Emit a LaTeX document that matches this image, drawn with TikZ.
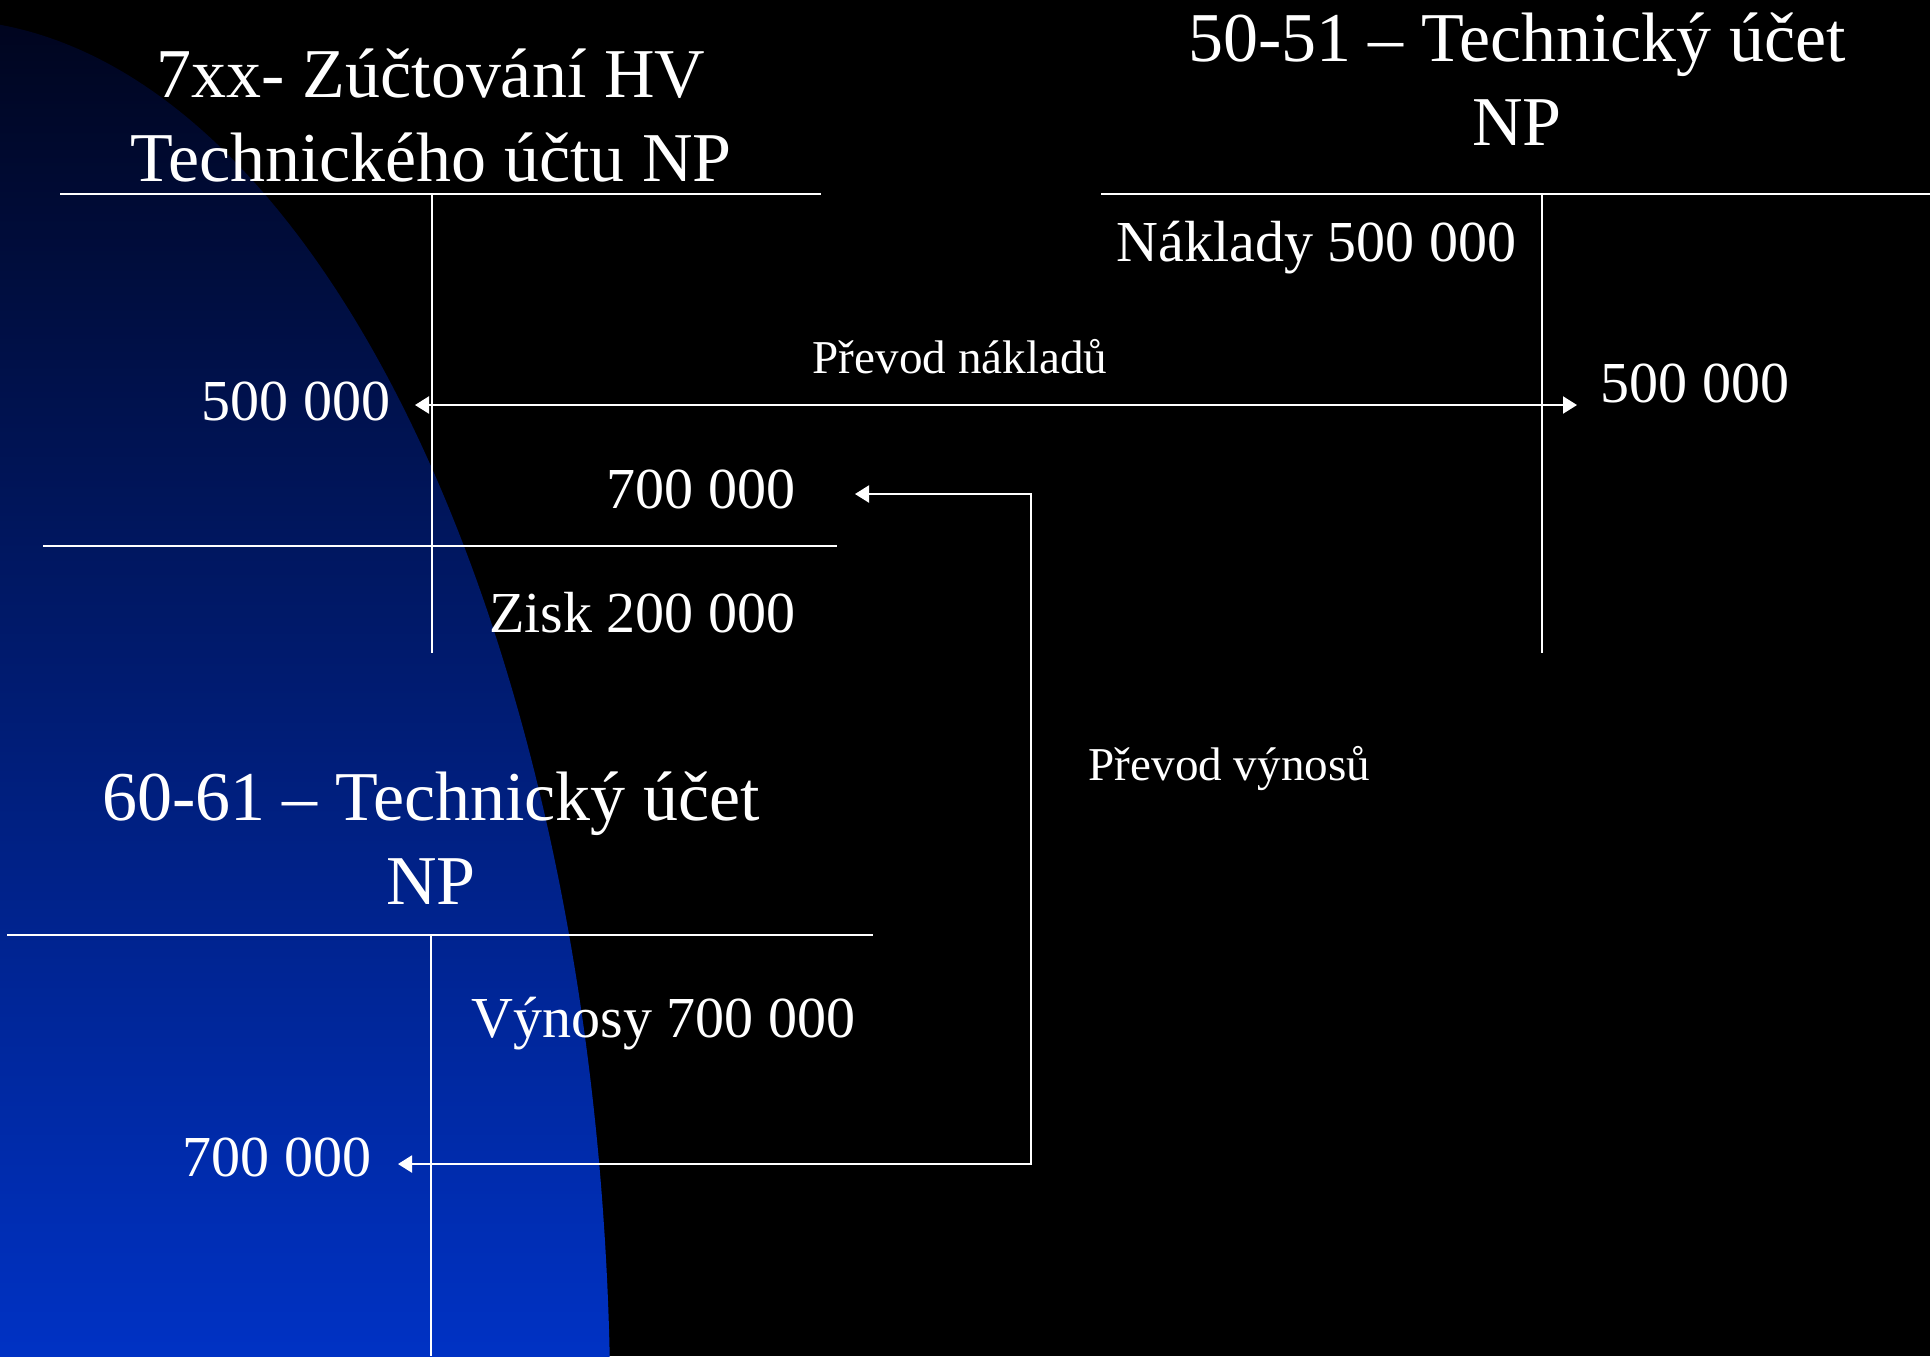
\documentclass[tikz,border=0pt]{standalone}
\usepackage{fontspec}
\setmainfont{Liberation Serif}
\usetikzlibrary{calc}
\usetikzlibrary{positioning}
\usetikzlibrary{arrows.meta}
\definecolor{slidetop}{RGB}{0,4,28}
\definecolor{slidebot}{RGB}{0,50,196}

\begin{document}
\begin{tikzpicture}[x=0.01cm, y=-0.01cm,
    every node/.style={text=white, inner sep=0pt},
    heading/.style={font=\fontsize{19.9}{23.8}\selectfont, align=center, anchor=base},
    amount/.style={font=\fontsize{16.5}{19.8}\selectfont},
    remark/.style={font=\fontsize{13.4}{16}\selectfont},
    tline/.style={draw=white, line width=0.6pt},
    transfer/.style={tline, {Triangle[length=0.14cm,width=0.17cm]}-{Triangle[length=0.14cm,width=0.17cm]}}]
  \useasboundingbox (0,0) rectangle (1930,1356);
  % slide background
  \fill[black] (0,0) rectangle (1930,1356);
  \begin{scope}
    \clip (-60,1420) ellipse [x radius=6.7cm, y radius=14cm];
    \shade[top color=slidetop, bottom color=slidebot] (0,0) rectangle (1930,1356);
  \end{scope}

  % 7xx account
  \node[heading] (t7) at (431,181) {7xx- Zúčtování HV\\Technického účtu NP};
  \coordinate (a0) at (432,194);
  \draw[tline] (60,194) -- (821,194);
  \draw[tline] (a0) -- (432,653);
  \draw[tline] (43,546) -- (837,546);
  \node[amount, anchor=base east] (a500) at (391,420) {500 000};
  \node[amount, anchor=base east] (a700) at (796,508) {700 000};
  \node[amount, anchor=base east] (zisk) at (796,632) {Zisk 200 000};

  % 50-51 account
  \node[heading] (t5) at (1517,145) {50-51 – Technický účet\\NP};
  \coordinate (b0) at (1542,194);
  \draw[tline] (1101,194) -- (1930,194);
  \draw[tline] (b0) -- (1542,653);
  \node[amount, anchor=base east] (naklady) at (1517,261) {Náklady 500 000};
  \node[amount, anchor=base west] (b500) at (1600,402) {500 000};

  % 60-61 account
  \node[heading] (t6) at (431,904) {60-61 – Technický účet\\NP};
  \coordinate (c0) at (431,935);
  \draw[tline] (7,935) -- (873,935);
  \draw[tline] (c0) -- (431,1356);
  \node[amount, anchor=base west] (vynosy) at (471,1037) {Výnosy 700 000};
  \node[amount, anchor=base east] (c700) at (372,1176) {700 000};

  % transfers
  \coordinate (i1) at (415,405);
  \coordinate (i2) at (1577,405);
  \draw[transfer] (i1) -- (i2);
  \node[remark, anchor=base] (pn) at (960,373) {Převod nákladů};

  \coordinate (i3) at (855,494);
  \coordinate (i4) at (1031,1164);
  \coordinate (i5) at (398,1164);
  \draw[transfer] (i3) -| (i4) -- (i5);
  \node[remark, anchor=base west] (pv) at (1088,780) {Převod výnosů};
\end{tikzpicture}
\end{document}
